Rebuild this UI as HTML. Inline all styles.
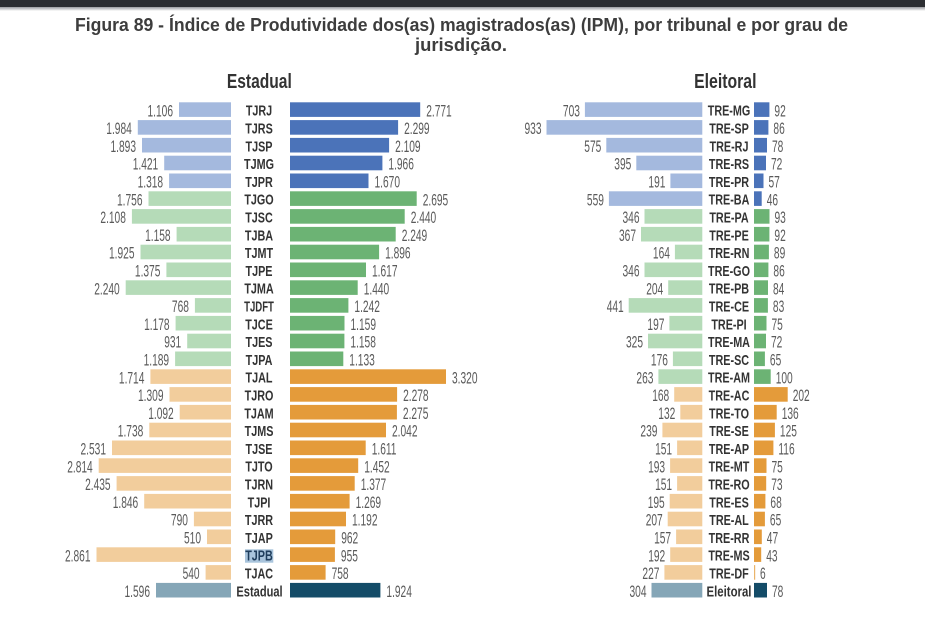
<!DOCTYPE html>
<html><head><meta charset="utf-8">
<style>
html,body{margin:0;padding:0;background:#fff;}
svg{display:block;}
.n{font-family:"Liberation Sans",sans-serif;font-size:17px;fill:#5a5a5a;}
.e{text-anchor:end;}
.c{font-family:"Liberation Sans",sans-serif;font-size:15px;font-weight:bold;fill:#333;text-anchor:middle;}
.t{font-family:"Liberation Sans",sans-serif;font-size:18px;font-weight:bold;fill:#3d3d3d;}
.h{font-family:"Liberation Sans",sans-serif;font-size:20px;font-weight:bold;fill:#333;text-anchor:middle;}
.bl{fill:#a4b9de}.bd{fill:#4b73b9}.gl{fill:#b5dbb8}.gd{fill:#6cb374}.ol{fill:#f2cd9c}.od{fill:#e49b3a}.tl{fill:#85a6b7}.td{fill:#144c68}
</style></head><body>
<svg width="925" height="640" viewBox="0 0 925 640" xmlns="http://www.w3.org/2000/svg">
<defs><linearGradient id="sh" x1="0" y1="0" x2="0" y2="1"><stop offset="0" stop-color="#9a9ca0"/><stop offset="1" stop-color="#ffffff"/></linearGradient></defs>
<rect x="0" y="0" width="925" height="640" fill="#fff"/>
<rect x="0" y="0" width="925" height="7" fill="#2c2e32"/>
<rect x="0" y="7" width="925" height="4" fill="url(#sh)"/>
<text class="t" x="75" y="31" textLength="773" lengthAdjust="spacingAndGlyphs">Figura 89 - Índice de Produtividade dos(as) magistrados(as) (IPM), por tribunal e por grau de</text>
<text class="t" x="415" y="51" textLength="92" lengthAdjust="spacingAndGlyphs">jurisdição.</text>
<text class="h" transform="translate(259.3,88) scale(.78,1)">Estadual</text>
<text class="h" transform="translate(725.3,88) scale(.79,1)">Eleitoral</text>

<g transform="translate(0,102.3)">
<rect class="bl" x="179" width="52" height="14.6"/><text class="n e" transform="translate(173,14) scale(.6,1)">1.106</text>
<text class="c" transform="translate(259,13.4) scale(.72,1)">TJRJ</text>
<rect class="bd" x="290" width="130.2" height="14.6"/><text class="n" transform="translate(426.2,14) scale(.6,1)">2.771</text>
<rect class="bl" x="584.9" width="117.4" height="14.6"/><text class="n e" transform="translate(579.9,14) scale(.6,1)">703</text>
<text class="c" transform="translate(729,13.4) scale(.72,1)">TRE-MG</text>
<rect class="bd" x="754" width="15.4" height="14.6"/><text class="n" transform="translate(774.4,14) scale(.6,1)">92</text>
</g>
<g transform="translate(0,120.1)">
<rect class="bl" x="137.8" width="93.2" height="14.6"/><text class="n e" transform="translate(131.8,14) scale(.6,1)">1.984</text>
<text class="c" transform="translate(259,13.4) scale(.72,1)">TJRS</text>
<rect class="bd" x="290" width="108.1" height="14.6"/><text class="n" transform="translate(404.1,14) scale(.6,1)">2.299</text>
<rect class="bl" x="546.5" width="155.8" height="14.6"/><text class="n e" transform="translate(541.5,14) scale(.6,1)">933</text>
<text class="c" transform="translate(729,13.4) scale(.72,1)">TRE-SP</text>
<rect class="bd" x="754" width="14.4" height="14.6"/><text class="n" transform="translate(773.4,14) scale(.6,1)">86</text>
</g>
<g transform="translate(0,137.9)">
<rect class="bl" x="142" width="89" height="14.6"/><text class="n e" transform="translate(136,14) scale(.6,1)">1.893</text>
<text class="c" transform="translate(259,13.4) scale(.72,1)">TJSP</text>
<rect class="bd" x="290" width="99.1" height="14.6"/><text class="n" transform="translate(395.1,14) scale(.6,1)">2.109</text>
<rect class="bl" x="606.3" width="96" height="14.6"/><text class="n e" transform="translate(601.3,14) scale(.6,1)">575</text>
<text class="c" transform="translate(729,13.4) scale(.72,1)">TRE-RJ</text>
<rect class="bd" x="754" width="13" height="14.6"/><text class="n" transform="translate(772,14) scale(.6,1)">78</text>
</g>
<g transform="translate(0,155.7)">
<rect class="bl" x="164.2" width="66.8" height="14.6"/><text class="n e" transform="translate(158.2,14) scale(.6,1)">1.421</text>
<text class="c" transform="translate(259,13.4) scale(.72,1)">TJMG</text>
<rect class="bd" x="290" width="92.4" height="14.6"/><text class="n" transform="translate(388.4,14) scale(.6,1)">1.966</text>
<rect class="bl" x="636.3" width="66" height="14.6"/><text class="n e" transform="translate(631.3,14) scale(.6,1)">395</text>
<text class="c" transform="translate(729,13.4) scale(.72,1)">TRE-RS</text>
<rect class="bd" x="754" width="12" height="14.6"/><text class="n" transform="translate(771,14) scale(.6,1)">72</text>
</g>
<g transform="translate(0,173.5)">
<rect class="bl" x="169.1" width="61.9" height="14.6"/><text class="n e" transform="translate(163.1,14) scale(.6,1)">1.318</text>
<text class="c" transform="translate(259,13.4) scale(.72,1)">TJPR</text>
<rect class="bd" x="290" width="78.5" height="14.6"/><text class="n" transform="translate(374.5,14) scale(.6,1)">1.670</text>
<rect class="bl" x="670.4" width="31.9" height="14.6"/><text class="n e" transform="translate(665.4,14) scale(.6,1)">191</text>
<text class="c" transform="translate(729,13.4) scale(.72,1)">TRE-PR</text>
<rect class="bd" x="754" width="9.5" height="14.6"/><text class="n" transform="translate(768.5,14) scale(.6,1)">57</text>
</g>
<g transform="translate(0,191.3)">
<rect class="gl" x="148.5" width="82.5" height="14.6"/><text class="n e" transform="translate(142.5,14) scale(.6,1)">1.756</text>
<text class="c" transform="translate(259,13.4) scale(.72,1)">TJGO</text>
<rect class="gd" x="290" width="126.7" height="14.6"/><text class="n" transform="translate(422.7,14) scale(.6,1)">2.695</text>
<rect class="bl" x="608.9" width="93.4" height="14.6"/><text class="n e" transform="translate(603.9,14) scale(.6,1)">559</text>
<text class="c" transform="translate(729,13.4) scale(.72,1)">TRE-BA</text>
<rect class="bd" x="754" width="7.7" height="14.6"/><text class="n" transform="translate(766.7,14) scale(.6,1)">46</text>
</g>
<g transform="translate(0,209.1)">
<rect class="gl" x="131.9" width="99.1" height="14.6"/><text class="n e" transform="translate(125.9,14) scale(.6,1)">2.108</text>
<text class="c" transform="translate(259,13.4) scale(.72,1)">TJSC</text>
<rect class="gd" x="290" width="114.7" height="14.6"/><text class="n" transform="translate(410.7,14) scale(.6,1)">2.440</text>
<rect class="gl" x="644.5" width="57.8" height="14.6"/><text class="n e" transform="translate(639.5,14) scale(.6,1)">346</text>
<text class="c" transform="translate(729,13.4) scale(.72,1)">TRE-PA</text>
<rect class="gd" x="754" width="15.5" height="14.6"/><text class="n" transform="translate(774.5,14) scale(.6,1)">93</text>
</g>
<g transform="translate(0,226.9)">
<rect class="gl" x="176.6" width="54.4" height="14.6"/><text class="n e" transform="translate(170.6,14) scale(.6,1)">1.158</text>
<text class="c" transform="translate(259,13.4) scale(.72,1)">TJBA</text>
<rect class="gd" x="290" width="105.7" height="14.6"/><text class="n" transform="translate(401.7,14) scale(.6,1)">2.249</text>
<rect class="gl" x="641" width="61.3" height="14.6"/><text class="n e" transform="translate(636,14) scale(.6,1)">367</text>
<text class="c" transform="translate(729,13.4) scale(.72,1)">TRE-PE</text>
<rect class="gd" x="754" width="15.4" height="14.6"/><text class="n" transform="translate(774.4,14) scale(.6,1)">92</text>
</g>
<g transform="translate(0,244.7)">
<rect class="gl" x="140.5" width="90.5" height="14.6"/><text class="n e" transform="translate(134.5,14) scale(.6,1)">1.925</text>
<text class="c" transform="translate(259,13.4) scale(.72,1)">TJMT</text>
<rect class="gd" x="290" width="89.1" height="14.6"/><text class="n" transform="translate(385.1,14) scale(.6,1)">1.896</text>
<rect class="gl" x="674.9" width="27.4" height="14.6"/><text class="n e" transform="translate(669.9,14) scale(.6,1)">164</text>
<text class="c" transform="translate(729,13.4) scale(.72,1)">TRE-RN</text>
<rect class="gd" x="754" width="14.9" height="14.6"/><text class="n" transform="translate(773.9,14) scale(.6,1)">89</text>
</g>
<g transform="translate(0,262.5)">
<rect class="gl" x="166.4" width="64.6" height="14.6"/><text class="n e" transform="translate(160.4,14) scale(.6,1)">1.375</text>
<text class="c" transform="translate(259,13.4) scale(.72,1)">TJPE</text>
<rect class="gd" x="290" width="76" height="14.6"/><text class="n" transform="translate(372,14) scale(.6,1)">1.617</text>
<rect class="gl" x="644.5" width="57.8" height="14.6"/><text class="n e" transform="translate(639.5,14) scale(.6,1)">346</text>
<text class="c" transform="translate(729,13.4) scale(.72,1)">TRE-GO</text>
<rect class="gd" x="754" width="14.4" height="14.6"/><text class="n" transform="translate(773.4,14) scale(.6,1)">86</text>
</g>
<g transform="translate(0,280.3)">
<rect class="gl" x="125.7" width="105.3" height="14.6"/><text class="n e" transform="translate(119.7,14) scale(.6,1)">2.240</text>
<text class="c" transform="translate(259,13.4) scale(.72,1)">TJMA</text>
<rect class="gd" x="290" width="67.7" height="14.6"/><text class="n" transform="translate(363.7,14) scale(.6,1)">1.440</text>
<rect class="gl" x="668.2" width="34.1" height="14.6"/><text class="n e" transform="translate(663.2,14) scale(.6,1)">204</text>
<text class="c" transform="translate(729,13.4) scale(.72,1)">TRE-PB</text>
<rect class="gd" x="754" width="14" height="14.6"/><text class="n" transform="translate(773,14) scale(.6,1)">84</text>
</g>
<g transform="translate(0,298.1)">
<rect class="gl" x="194.9" width="36.1" height="14.6"/><text class="n e" transform="translate(188.9,14) scale(.6,1)">768</text>
<text class="c" transform="translate(259,13.4) scale(.64,1)">TJDFT</text>
<rect class="gd" x="290" width="58.4" height="14.6"/><text class="n" transform="translate(354.4,14) scale(.6,1)">1.242</text>
<rect class="gl" x="628.7" width="73.6" height="14.6"/><text class="n e" transform="translate(623.7,14) scale(.6,1)">441</text>
<text class="c" transform="translate(729,13.4) scale(.72,1)">TRE-CE</text>
<rect class="gd" x="754" width="13.9" height="14.6"/><text class="n" transform="translate(772.9,14) scale(.6,1)">83</text>
</g>
<g transform="translate(0,315.9)">
<rect class="gl" x="175.6" width="55.4" height="14.6"/><text class="n e" transform="translate(169.6,14) scale(.6,1)">1.178</text>
<text class="c" transform="translate(259,13.4) scale(.72,1)">TJCE</text>
<rect class="gd" x="290" width="54.5" height="14.6"/><text class="n" transform="translate(350.5,14) scale(.6,1)">1.159</text>
<rect class="gl" x="669.4" width="32.9" height="14.6"/><text class="n e" transform="translate(664.4,14) scale(.6,1)">197</text>
<text class="c" transform="translate(729,13.4) scale(.72,1)">TRE-PI</text>
<rect class="gd" x="754" width="12.5" height="14.6"/><text class="n" transform="translate(771.5,14) scale(.6,1)">75</text>
</g>
<g transform="translate(0,333.7)">
<rect class="gl" x="187.2" width="43.8" height="14.6"/><text class="n e" transform="translate(181.2,14) scale(.6,1)">931</text>
<text class="c" transform="translate(259,13.4) scale(.72,1)">TJES</text>
<rect class="gd" x="290" width="54.4" height="14.6"/><text class="n" transform="translate(350.4,14) scale(.6,1)">1.158</text>
<rect class="gl" x="648" width="54.3" height="14.6"/><text class="n e" transform="translate(643,14) scale(.6,1)">325</text>
<text class="c" transform="translate(729,13.4) scale(.72,1)">TRE-MA</text>
<rect class="gd" x="754" width="12" height="14.6"/><text class="n" transform="translate(771,14) scale(.6,1)">72</text>
</g>
<g transform="translate(0,351.5)">
<rect class="gl" x="175.1" width="55.9" height="14.6"/><text class="n e" transform="translate(169.1,14) scale(.6,1)">1.189</text>
<text class="c" transform="translate(259,13.4) scale(.72,1)">TJPA</text>
<rect class="gd" x="290" width="53.3" height="14.6"/><text class="n" transform="translate(349.3,14) scale(.6,1)">1.133</text>
<rect class="gl" x="672.9" width="29.4" height="14.6"/><text class="n e" transform="translate(667.9,14) scale(.6,1)">176</text>
<text class="c" transform="translate(729,13.4) scale(.72,1)">TRE-SC</text>
<rect class="gd" x="754" width="10.9" height="14.6"/><text class="n" transform="translate(769.9,14) scale(.6,1)">65</text>
</g>
<g transform="translate(0,369.3)">
<rect class="ol" x="150.4" width="80.6" height="14.6"/><text class="n e" transform="translate(144.4,14) scale(.6,1)">1.714</text>
<text class="c" transform="translate(259,13.4) scale(.72,1)">TJAL</text>
<rect class="od" x="290" width="156" height="14.6"/><text class="n" transform="translate(452,14) scale(.6,1)">3.320</text>
<rect class="gl" x="658.4" width="43.9" height="14.6"/><text class="n e" transform="translate(653.4,14) scale(.6,1)">263</text>
<text class="c" transform="translate(729,13.4) scale(.72,1)">TRE-AM</text>
<rect class="gd" x="754" width="16.7" height="14.6"/><text class="n" transform="translate(775.7,14) scale(.6,1)">100</text>
</g>
<g transform="translate(0,387.1)">
<rect class="ol" x="169.5" width="61.5" height="14.6"/><text class="n e" transform="translate(163.5,14) scale(.6,1)">1.309</text>
<text class="c" transform="translate(259,13.4) scale(.72,1)">TJRO</text>
<rect class="od" x="290" width="107.1" height="14.6"/><text class="n" transform="translate(403.1,14) scale(.6,1)">2.278</text>
<rect class="ol" x="674.2" width="28.1" height="14.6"/><text class="n e" transform="translate(669.2,14) scale(.6,1)">168</text>
<text class="c" transform="translate(729,13.4) scale(.72,1)">TRE-AC</text>
<rect class="od" x="754" width="33.7" height="14.6"/><text class="n" transform="translate(792.7,14) scale(.6,1)">202</text>
</g>
<g transform="translate(0,404.9)">
<rect class="ol" x="179.7" width="51.3" height="14.6"/><text class="n e" transform="translate(173.7,14) scale(.6,1)">1.092</text>
<text class="c" transform="translate(259,13.4) scale(.72,1)">TJAM</text>
<rect class="od" x="290" width="106.9" height="14.6"/><text class="n" transform="translate(402.9,14) scale(.6,1)">2.275</text>
<rect class="ol" x="680.3" width="22" height="14.6"/><text class="n e" transform="translate(675.3,14) scale(.6,1)">132</text>
<text class="c" transform="translate(729,13.4) scale(.72,1)">TRE-TO</text>
<rect class="od" x="754" width="22.7" height="14.6"/><text class="n" transform="translate(781.7,14) scale(.6,1)">136</text>
</g>
<g transform="translate(0,422.7)">
<rect class="ol" x="149.3" width="81.7" height="14.6"/><text class="n e" transform="translate(143.3,14) scale(.6,1)">1.738</text>
<text class="c" transform="translate(259,13.4) scale(.72,1)">TJMS</text>
<rect class="od" x="290" width="96" height="14.6"/><text class="n" transform="translate(392,14) scale(.6,1)">2.042</text>
<rect class="ol" x="662.4" width="39.9" height="14.6"/><text class="n e" transform="translate(657.4,14) scale(.6,1)">239</text>
<text class="c" transform="translate(729,13.4) scale(.72,1)">TRE-SE</text>
<rect class="od" x="754" width="20.9" height="14.6"/><text class="n" transform="translate(779.9,14) scale(.6,1)">125</text>
</g>
<g transform="translate(0,440.5)">
<rect class="ol" x="112" width="119" height="14.6"/><text class="n e" transform="translate(106,14) scale(.6,1)">2.531</text>
<text class="c" transform="translate(259,13.4) scale(.72,1)">TJSE</text>
<rect class="od" x="290" width="75.7" height="14.6"/><text class="n" transform="translate(371.7,14) scale(.6,1)">1.611</text>
<rect class="ol" x="677.1" width="25.2" height="14.6"/><text class="n e" transform="translate(672.1,14) scale(.6,1)">151</text>
<text class="c" transform="translate(729,13.4) scale(.72,1)">TRE-AP</text>
<rect class="od" x="754" width="19.4" height="14.6"/><text class="n" transform="translate(778.4,14) scale(.6,1)">116</text>
</g>
<g transform="translate(0,458.3)">
<rect class="ol" x="98.7" width="132.3" height="14.6"/><text class="n e" transform="translate(92.7,14) scale(.6,1)">2.814</text>
<text class="c" transform="translate(259,13.4) scale(.72,1)">TJTO</text>
<rect class="od" x="290" width="68.2" height="14.6"/><text class="n" transform="translate(364.2,14) scale(.6,1)">1.452</text>
<rect class="ol" x="670.1" width="32.2" height="14.6"/><text class="n e" transform="translate(665.1,14) scale(.6,1)">193</text>
<text class="c" transform="translate(729,13.4) scale(.72,1)">TRE-MT</text>
<rect class="od" x="754" width="12.5" height="14.6"/><text class="n" transform="translate(771.5,14) scale(.6,1)">75</text>
</g>
<g transform="translate(0,476.1)">
<rect class="ol" x="116.6" width="114.4" height="14.6"/><text class="n e" transform="translate(110.6,14) scale(.6,1)">2.435</text>
<text class="c" transform="translate(259,13.4) scale(.72,1)">TJRN</text>
<rect class="od" x="290" width="64.7" height="14.6"/><text class="n" transform="translate(360.7,14) scale(.6,1)">1.377</text>
<rect class="ol" x="677.1" width="25.2" height="14.6"/><text class="n e" transform="translate(672.1,14) scale(.6,1)">151</text>
<text class="c" transform="translate(729,13.4) scale(.72,1)">TRE-RO</text>
<rect class="od" x="754" width="12.2" height="14.6"/><text class="n" transform="translate(771.2,14) scale(.6,1)">73</text>
</g>
<g transform="translate(0,493.9)">
<rect class="ol" x="144.2" width="86.8" height="14.6"/><text class="n e" transform="translate(138.2,14) scale(.6,1)">1.846</text>
<text class="c" transform="translate(259,13.4) scale(.72,1)">TJPI</text>
<rect class="od" x="290" width="59.6" height="14.6"/><text class="n" transform="translate(355.6,14) scale(.6,1)">1.269</text>
<rect class="ol" x="669.7" width="32.6" height="14.6"/><text class="n e" transform="translate(664.7,14) scale(.6,1)">195</text>
<text class="c" transform="translate(729,13.4) scale(.72,1)">TRE-ES</text>
<rect class="od" x="754" width="11.4" height="14.6"/><text class="n" transform="translate(770.4,14) scale(.6,1)">68</text>
</g>
<g transform="translate(0,511.7)">
<rect class="ol" x="193.9" width="37.1" height="14.6"/><text class="n e" transform="translate(187.9,14) scale(.6,1)">790</text>
<text class="c" transform="translate(259,13.4) scale(.72,1)">TJRR</text>
<rect class="od" x="290" width="56" height="14.6"/><text class="n" transform="translate(352,14) scale(.6,1)">1.192</text>
<rect class="ol" x="667.7" width="34.6" height="14.6"/><text class="n e" transform="translate(662.7,14) scale(.6,1)">207</text>
<text class="c" transform="translate(729,13.4) scale(.72,1)">TRE-AL</text>
<rect class="od" x="754" width="10.9" height="14.6"/><text class="n" transform="translate(769.9,14) scale(.6,1)">65</text>
</g>
<g transform="translate(0,529.5)">
<rect class="ol" x="207" width="24" height="14.6"/><text class="n e" transform="translate(201,14) scale(.6,1)">510</text>
<text class="c" transform="translate(259,13.4) scale(.72,1)">TJAP</text>
<rect class="od" x="290" width="45.2" height="14.6"/><text class="n" transform="translate(341.2,14) scale(.6,1)">962</text>
<rect class="ol" x="676.1" width="26.2" height="14.6"/><text class="n e" transform="translate(671.1,14) scale(.6,1)">157</text>
<text class="c" transform="translate(729,13.4) scale(.72,1)">TRE-RR</text>
<rect class="od" x="754" width="7.8" height="14.6"/><text class="n" transform="translate(766.8,14) scale(.6,1)">47</text>
</g>
<g transform="translate(0,547.3)">
<rect class="ol" x="96.5" width="134.5" height="14.6"/><text class="n e" transform="translate(90.5,14) scale(.6,1)">2.861</text>
<rect x="245" y="2" width="28.3" height="13.4" fill="#a9c4dc"/>
<text class="c" transform="translate(259,13.4) scale(.72,1)" style="fill:#1f3d5c">TJPB</text>
<rect class="od" x="290" width="44.9" height="14.6"/><text class="n" transform="translate(340.9,14) scale(.6,1)">955</text>
<rect class="ol" x="670.2" width="32.1" height="14.6"/><text class="n e" transform="translate(665.2,14) scale(.6,1)">192</text>
<text class="c" transform="translate(729,13.4) scale(.72,1)">TRE-MS</text>
<rect class="od" x="754" width="7.2" height="14.6"/><text class="n" transform="translate(766.2,14) scale(.6,1)">43</text>
</g>
<g transform="translate(0,565.1)">
<rect class="ol" x="205.6" width="25.4" height="14.6"/><text class="n e" transform="translate(199.6,14) scale(.6,1)">540</text>
<text class="c" transform="translate(259,13.4) scale(.72,1)">TJAC</text>
<rect class="od" x="290" width="35.6" height="14.6"/><text class="n" transform="translate(331.6,14) scale(.6,1)">758</text>
<rect class="ol" x="664.4" width="37.9" height="14.6"/><text class="n e" transform="translate(659.4,14) scale(.6,1)">227</text>
<text class="c" transform="translate(729,13.4) scale(.72,1)">TRE-DF</text>
<rect x="754" width="1.2" height="14.6" fill="#eab46a"/><text class="n" transform="translate(760,14) scale(.6,1)">6</text>
</g>
<g transform="translate(0,582.9)">
<rect class="tl" x="156" width="75" height="14.6"/><text class="n e" transform="translate(150,14) scale(.6,1)">1.596</text>
<text class="c" transform="translate(259.5,13.4) scale(.74,1)">Estadual</text>
<rect class="td" x="290" width="90.4" height="14.6"/><text class="n" transform="translate(386.4,14) scale(.6,1)">1.924</text>
<rect class="tl" x="651.5" width="50.8" height="14.6"/><text class="n e" transform="translate(646.5,14) scale(.6,1)">304</text>
<text class="c" transform="translate(729,13.4) scale(.76,1)">Eleitoral</text>
<rect class="td" x="754" width="13" height="14.6"/><text class="n" transform="translate(772,14) scale(.6,1)">78</text>
</g>
</svg>
</body></html>
